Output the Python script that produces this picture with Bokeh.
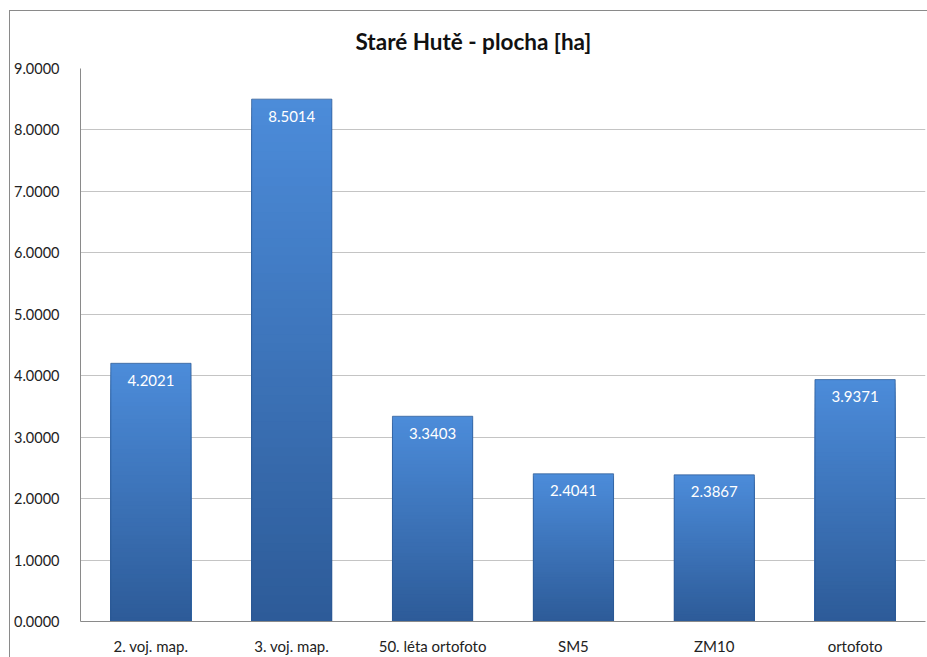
from bokeh.plotting import figure
from bokeh.models import ColumnDataSource, NumeralTickFormatter, FixedTicker
from bokeh.layouts import column
from bokeh.embed import file_html
from bokeh.resources import INLINE
from bokeh.core.properties import value

# Area of the locality per source
categories = ["2. voj. map.", "3. voj. map.", "50. léta ortofoto", "SM5", "ZM10", "ortofoto"]
areas = [4.2021, 8.5014, 3.3403, 2.4041, 2.3867, 3.9371]
y_ticks = [0, 1, 2, 3, 4, 5, 6, 7, 8, 9]

BAR_W = 0.57
TOP_RGB = (0x4c, 0x8c, 0xda)
BOTTOM_RGB = (0x2d, 0x5b, 0x98)
N_SLICES = 60


def mix(t):
    r = [round(b + (a - b) * t) for a, b in zip(TOP_RGB, BOTTOM_RGB)]
    return "#%02x%02x%02x" % tuple(r)


# vertical gradient per bar: nested columns from the baseline, tallest first
sx, st, sc = [], [], []
for i in reversed(range(N_SLICES)):
    for cat, v in zip(categories, areas):
        sx.append(cat)
        st.append(v * (i + 1) / N_SLICES)
        sc.append(mix((i + 0.5) / N_SLICES))
slices = ColumnDataSource(dict(x=sx, top=st, color=sc))
bars = ColumnDataSource(dict(x=categories, top=areas,
                             label=["%.4f" % a for a in areas]))

p = figure(x_range=categories, y_range=(0, 9), width=927, height=657,
           output_backend="svg", toolbar_location=None,
           min_border_left=80, min_border_right=2, min_border_top=68,
           min_border_bottom=31)
p.border_fill_color = None

p.title.text = "Staré Hutě - plocha [ha]"
p.title.align = "left"
p.title.offset = 275
p.title.text_font = "Lato"
p.title.text_font_size = "22.5px"
p.title.text_font_style = "bold"
p.title.text_color = "#111111"
p.title.standoff = 27

p.vbar(x="x", top="top", width=BAR_W, source=slices,
       fill_color="color", line_color=None)
p.vbar(x="x", top="top", width=BAR_W, source=bars, fill_color=None,
       line_color="#2a5590", line_alpha=0.7, line_width=1)
p.text(x="x", y="top", text="label", source=bars, text_color="white",
       text_font=value("Lato"), text_font_size="15px", text_align="center",
       text_baseline="middle", y_offset=17)

p.outline_line_color = None
p.background_fill_color = "white"
p.xgrid.grid_line_color = None
p.ygrid.grid_line_color = "#c4c4c4"
p.ygrid.ticker = FixedTicker(ticks=y_ticks)

p.yaxis.ticker = FixedTicker(ticks=y_ticks)
p.yaxis.formatter = NumeralTickFormatter(format="0.0000")
for ax in (p.xaxis, p.yaxis):
    ax.axis_line_color = "#8a8a8a"
    ax.major_tick_line_color = None
    ax.minor_tick_line_color = None
    ax.major_label_text_font = "Lato"
    ax.major_label_text_color = "#222222"
p.yaxis.major_label_text_font_size = "14.5px"
p.xaxis.major_label_text_font_size = "15px"
p.yaxis.major_label_standoff = 15
p.xaxis.major_label_standoff = 9
p.x_range.range_padding = 0
p.x_range.group_padding = 0

# page container: white card with the chart border on its top and left edges
page = column(p, width=927, height=657, styles={
    "background-color": "white",
    "background-image": "linear-gradient(#8a8a8a, #8a8a8a), linear-gradient(#8a8a8a, #8a8a8a)",
    "background-size": "918px 1px, 1px 647px",
    "background-position": "9px 10px, 9px 10px",
    "background-repeat": "no-repeat",
})

open("out.html", "w").write(file_html(page, INLINE))
